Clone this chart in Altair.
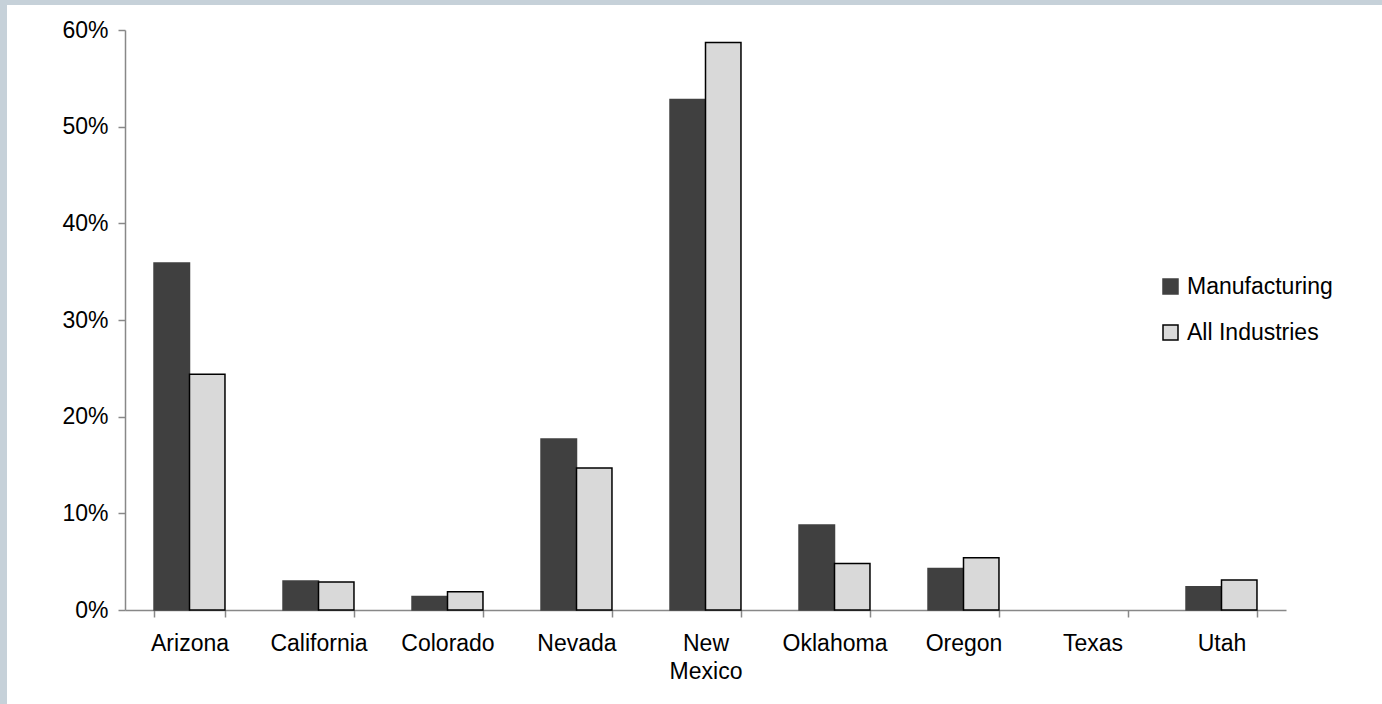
import altair as alt
import pandas as pd

states = ["Arizona", "California", "Colorado", "Nevada", "New Mexico",
          "Oklahoma", "Oregon", "Texas", "Utah"]
series_names = ["Manufacturing", "All Industries"]
manufacturing = [35.9, 3.0, 1.4, 17.7, 52.8, 8.8, 4.3, 0.0, 2.4]
all_industries = [24.4, 2.9, 1.9, 14.7, 58.7, 4.8, 5.4, 0.0, 3.1]
y_ticks = [0, 10, 20, 30, 40, 50, 60]

rows = []
for s, m, a in zip(states, manufacturing, all_industries):
    rows.append({"state": s, "series": series_names[0], "value": m})
    rows.append({"state": s, "series": series_names[1], "value": a})
df = pd.DataFrame(rows)

W, H = 1161, 580
PL, PT = 125, 30
FONT = "Liberation Sans"
FS = 23
AXIS_COLOR = "#888888"
BORDER = "#c6d1d9"

legend_cfg = dict(title=None, orient="none", legendX=1034, legendY=245,
                  symbolType="square", symbolSize=225,
                  labelFontSize=FS, labelFont=FONT,
                  labelColor="#000000", rowPadding=22,
                  labelOffset=5, symbolStrokeWidth=1.5)

bars = alt.Chart(df).mark_bar(strokeWidth=1.5).encode(
    x=alt.X("state:N", sort=states, title=None,
            scale=alt.Scale(paddingInner=0.45, paddingOuter=0.225),
            axis=alt.Axis(tickBand="extent", labelAngle=0, labelFontSize=FS,
                          labelFont=FONT, labelColor="#000000",
                          labelPadding=15, tickSize=7, tickColor=AXIS_COLOR,
                          tickWidth=1.5, domainColor=AXIS_COLOR, domainWidth=1.5,
                          labelLineHeight=28,
                          labelExpr="split(datum.label, ' ')")),
    xOffset=alt.XOffset("series:N", sort=series_names,
                        scale=alt.Scale(paddingInner=0, paddingOuter=0)),
    y=alt.Y("value:Q", title=None,
            scale=alt.Scale(domain=[0, 60], nice=False),
            axis=alt.Axis(values=y_ticks, labelExpr="datum.value + '%'",
                          labelFontSize=FS, labelFont=FONT, labelColor="#000000",
                          labelPadding=10, tickSize=7, tickColor=AXIS_COLOR,
                          tickWidth=1.5, domainColor=AXIS_COLOR, domainWidth=1.5,
                          grid=False)),
    color=alt.Color("series:N", sort=series_names,
                    scale=alt.Scale(domain=series_names, range=["#404040", "#d9d9d9"]),
                    legend=alt.Legend(**legend_cfg)),
    stroke=alt.Stroke("series:N", sort=series_names,
                      scale=alt.Scale(domain=series_names, range=["#404040", "#000000"]),
                      legend=alt.Legend(**legend_cfg)),
    strokeOpacity=alt.condition(alt.datum.value > 0, alt.value(1), alt.value(0)),
)

border_df = pd.DataFrame({"k": [0]})
top_strip = alt.Chart(border_df).mark_rect(color=BORDER).encode(
    x=alt.value(-PL), x2=alt.value(1382 - PL), y=alt.value(-PT), y2=alt.value(-PT + 5))
left_strip = alt.Chart(border_df).mark_rect(color=BORDER).encode(
    x=alt.value(-PL), x2=alt.value(-PL + 7), y=alt.value(-PT), y2=alt.value(704 - PT))

chart = alt.layer(top_strip, left_strip, bars).properties(
    width=W, height=H,
    autosize=alt.AutoSizeParams(type="none"),
    padding={"left": PL, "top": PT, "right": 1382 - PL - W, "bottom": 704 - PT - H},
    background="#ffffff",
).configure_view(stroke=None)

chart.save("out.html", embed_options={"renderer": "svg", "actions": False})
